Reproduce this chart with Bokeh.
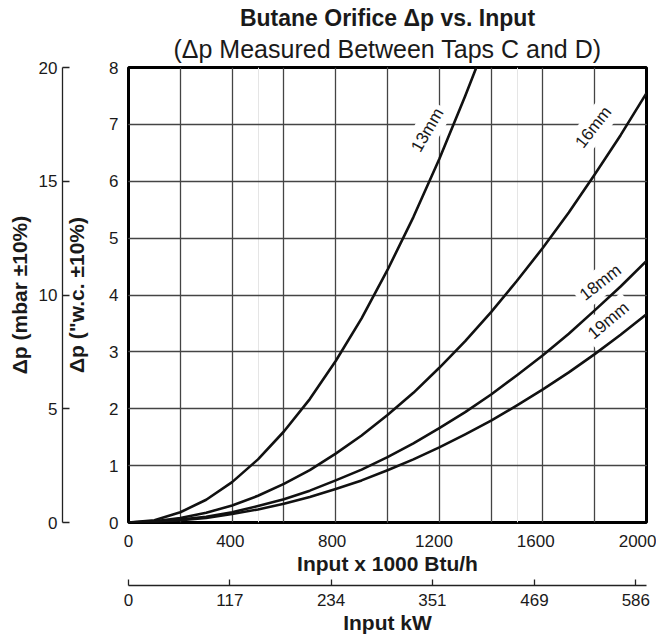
import math
from bokeh.plotting import figure
from bokeh.models import (Range1d, LinearAxis, FixedTicker, SingleIntervalTicker, Grid, Title)
from bokeh.core.properties import value
from bokeh.embed import file_html
from bokeh.resources import INLINE

FONT = "Liberation Sans"

# ---- data ----
input_btu = [0, 100, 200, 300, 400, 500, 600, 700, 800, 900, 1000,
             1100, 1200, 1300, 1400, 1500, 1600, 1700, 1800, 1900, 2000]
input_btu_13 = [0, 100, 200, 300, 400, 500, 600, 700, 800, 900, 1000,
                1100, 1200, 1300, 1343]
dp_13mm = [0, 0.04, 0.18, 0.40, 0.71, 1.11, 1.60, 2.17, 2.84, 3.59, 4.44,
           5.37, 6.39, 7.50, 8.0]
dp_16mm = [0, 0.02, 0.08, 0.17, 0.30, 0.47, 0.68, 0.92, 1.21, 1.53, 1.89,
           2.28, 2.72, 3.19, 3.70, 4.25, 4.83, 5.45, 6.12, 6.81, 7.55]
dp_18mm = [0, 0.01, 0.05, 0.10, 0.18, 0.29, 0.41, 0.56, 0.74, 0.93, 1.15,
           1.39, 1.66, 1.94, 2.25, 2.59, 2.94, 3.32, 3.73, 4.15, 4.60]
dp_19mm = [0, 0.01, 0.04, 0.08, 0.15, 0.23, 0.33, 0.45, 0.59, 0.74, 0.92,
           1.11, 1.32, 1.55, 1.79, 2.06, 2.34, 2.64, 2.96, 3.30, 3.66]

series_names = ["13mm", "16mm", "18mm", "19mm"]
btu_ticks = [0, 400, 800, 1200, 1600, 2000]
wc_ticks = [0, 1, 2, 3, 4, 5, 6, 7, 8]
mbar_ticks = [0, 5, 10, 15, 20]
kw_ticks = [0, 117, 234, 351, 469, 586]

# label placement (annotation positions in data units, angle in degrees)
label_x = [1154, 1795, 1822, 1853]
label_y = [6.90, 6.95, 4.22, 3.55]
label_angle = [60, 52, 38, 40]

TXT = "#1a1a1a"

p = figure(width=656, height=637, x_range=Range1d(0, 2000), y_range=Range1d(0, 8),
           x_axis_location=None, y_axis_location=None, title=None,
           output_backend="svg", toolbar_location=None,
           min_border_left=128, min_border_right=10, min_border_top=67,
           min_border_bottom=115)
p.background_fill_color = "white"
p.border_fill_color = "white"
p.outline_line_color = "black"
p.outline_line_width = 3

p.extra_y_ranges = {"mbar": Range1d(0, 20)}
p.extra_x_ranges = {"lbl": Range1d(0, 2035), "kw": Range1d(0, 598.3)}

# grids
xg = Grid(dimension=0, ticker=SingleIntervalTicker(interval=200),
          grid_line_color="#444444", grid_line_width=1.3)
yg = Grid(dimension=1, ticker=SingleIntervalTicker(interval=1),
          grid_line_color="#444444", grid_line_width=1.3)
p.add_layout(xg)
p.add_layout(yg)

def style_axis(ax):
    ax.major_label_text_font = FONT
    ax.major_label_text_font_size = "17px"
    ax.major_label_text_color = TXT
    ax.axis_label_text_font = FONT
    ax.axis_label_text_font_size = "21px"
    ax.axis_label_text_font_style = "bold"
    ax.axis_label_text_color = TXT
    ax.minor_tick_line_color = None

# main y axis ("w.c.)
ya = LinearAxis(ticker=FixedTicker(ticks=wc_ticks), axis_label='\u0394p ("w.c. \u00b110%)')
style_axis(ya)
ya.axis_line_color = None
ya.major_tick_line_color = None
ya.major_tick_out = 0
ya.major_tick_in = 0
ya.major_label_standoff = 10
ya.axis_label_standoff = 18
p.add_layout(ya, "left")

# mbar axis
ma = LinearAxis(y_range_name="mbar", ticker=FixedTicker(ticks=mbar_ticks),
                axis_label="\u0394p (mbar \u00b110%)")
style_axis(ma)
ma.axis_line_color = "#222222"
ma.axis_line_width = 1.3
ma.major_tick_line_color = "#222222"
ma.major_tick_line_width = 1.3
ma.major_tick_out = 0
ma.major_tick_in = 7
ma.major_label_standoff = 5
ma.axis_label_standoff = 5
p.add_layout(ma, "left")

# main x axis (Btu/h)
xa = LinearAxis(x_range_name="lbl", ticker=FixedTicker(ticks=btu_ticks))
style_axis(xa)
xa.axis_line_color = None
xa.major_tick_line_color = None
xa.major_tick_out = 0
xa.major_tick_in = 0
xa.major_label_standoff = 12
p.add_layout(xa, "below")

t_btu = Title(text="Input x 1000 Btu/h", align="center", text_font=FONT,
              text_font_size="21px", text_font_style="bold", text_color=TXT, standoff=0)
p.add_layout(t_btu, "below")

# invisible spacer between the two bottom scales
sp_b = LinearAxis(x_range_name="lbl", ticker=FixedTicker(ticks=[1000]), axis_line_color=None,
                  major_tick_line_color=None, minor_tick_line_color=None,
                  major_tick_out=11, major_tick_in=0, major_label_standoff=0,
                  major_label_overrides={1000: ""})
p.add_layout(sp_b, "below")

# kW axis
ka = LinearAxis(x_range_name="kw", ticker=FixedTicker(ticks=kw_ticks))
style_axis(ka)
ka.axis_line_color = "#222222"
ka.axis_line_width = 1.3
ka.major_tick_line_color = "#222222"
ka.major_tick_line_width = 1.3
ka.major_tick_out = 0
ka.major_tick_in = 6
ka.major_label_standoff = 8
p.add_layout(ka, "below")

t_kw = Title(text="Input kW", align="center", text_font=FONT,
             text_font_size="21px", text_font_style="bold", text_color=TXT, standoff=0)
p.add_layout(t_kw, "below")

# titles (first added sits nearest the plot)
sub = Title(text="(\u0394p Measured Between Taps C and D)", align="center", text_font=FONT,
            text_font_size="25px", text_font_style="normal", text_color=TXT, standoff=9)
p.add_layout(sub, "above")
main = Title(text="Butane Orifice \u0394p vs. Input", align="center", text_font=FONT,
             text_font_size="23px", text_font_style="bold", text_color=TXT, standoff=-4)
p.add_layout(main, "above")

# curve labels (white background breaks the grid like the original)
p.text(x=label_x, y=label_y, text=series_names,
       angle=[math.radians(a) for a in label_angle],
       text_font=value(FONT), text_font_size="17px", text_color=TXT,
       text_align="center", text_baseline="middle",
       background_fill_color="white", padding=4)

# curves
for xs, ys in [(input_btu_13, dp_13mm), (input_btu, dp_16mm),
               (input_btu, dp_18mm), (input_btu, dp_19mm)]:
    p.line(xs, ys, line_color="#111111", line_width=2.6, line_join="round")

open("out.html", "w").write(file_html(p, INLINE))
